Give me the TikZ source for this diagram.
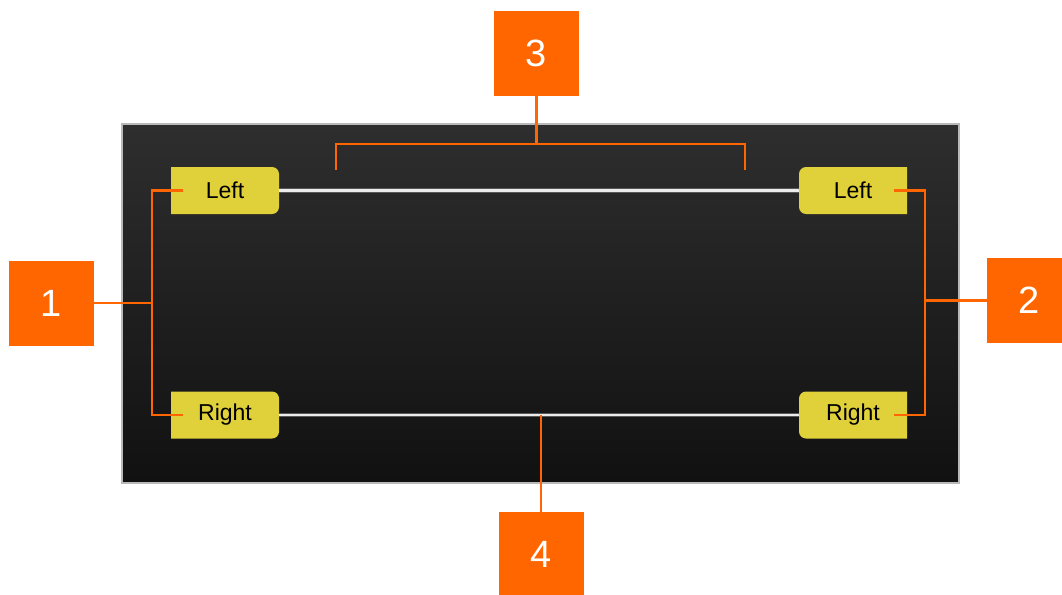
\documentclass[tikz,border=0pt]{standalone}
\usepackage{fontspec}
\setmainfont{Liberation Sans}
\usetikzlibrary{backgrounds}
\definecolor{orng}{RGB}{255,102,0}
\definecolor{ylw}{RGB}{224,208,58}
\definecolor{ptop}{RGB}{46,46,46}
\definecolor{pbot}{RGB}{17,17,17}
\begin{document}
\begin{tikzpicture}[x=1pt,y=-1pt,
  numbox/.style={fill=orng,minimum width=85pt,minimum height=85pt,inner sep=0pt,outer sep=0pt,text=white,font=\fontsize{38}{38}\selectfont},
  lbl/.style={minimum width=108pt,minimum height=47pt,inner sep=0pt,outer sep=0pt,font=\fontsize{23}{23}\selectfont},
  lblfill/.style={fill=ylw},
  wire/.style={orng,line width=2.8pt},
  rail/.style={line width=4.5pt,draw=gray!70!black},
  railin/.style={line width=2.6pt,draw=white!85!gray}]
\useasboundingbox (0,0) rectangle (1062,594);
% labels
\node[lbl] (tl) at (225,190.5) {Left};
\node[lbl] (bl) at (225,415) {Right};
\node[lbl] (tr) at (853,190.5) {Left};
\node[lbl] (br) at (853,415) {Right};
\begin{scope}[on background layer]
\shade[top color=ptop,bottom color=pbot,draw=gray!55,line width=1.5pt] (122,124) rectangle (959,483);
\fill[lblfill] (tl.south west) -- (tl.north west) [rounded corners=7pt] -- (tl.north east) -- (tl.south east) [sharp corners] -- cycle;
\fill[lblfill] (bl.south west) -- (bl.north west) [rounded corners=7pt] -- (bl.north east) -- (bl.south east) [sharp corners] -- cycle;
\fill[lblfill] (tr.north east) -- (tr.south east) [rounded corners=7pt] -- (tr.south west) -- (tr.north west) [sharp corners] -- cycle;
\fill[lblfill] (br.north east) -- (br.south east) [rounded corners=7pt] -- (br.south west) -- (br.north west) [sharp corners] -- cycle;
\end{scope}
% rails
\draw[rail] (tl.east) -- (tr.west);
\draw[railin] (tl.east) -- (tr.west);
\draw[rail] (bl.east) -- (br.west);
\draw[railin] (bl.east) -- (br.west);
% number boxes
\node[numbox] (n1) at (51.5,303) {1};
\node[numbox] (n2) at (1029.5,300.5) {2};
\node[numbox] (n3) at (536.5,53.5) {3};
\node[numbox] (n4) at (541,554) {4};
% connectors
\coordinate (j1) at (152,303);
\coordinate (j2) at (925,300.5);
\coordinate (b3m) at (536.5,144);
\coordinate (b3l) at (336,170);
\coordinate (b3r) at (745,170);
\draw[wire] (n1.east) -- (j1);
\draw[wire] ([xshift=12pt]tl.west) -| (j1) |- ([xshift=12pt]bl.west);
\draw[wire] (n2.west) -- (j2);
\draw[wire] ([xshift=-13pt]tr.east) -| (j2) |- ([xshift=-13pt]br.east);
\draw[wire] (n3.south) -- (b3m);
\draw[wire] (b3l) |- (b3m) -| (b3r);
\draw[wire] (n4.north) -- (n4.north |- bl.center);
\end{tikzpicture}
\end{document}
